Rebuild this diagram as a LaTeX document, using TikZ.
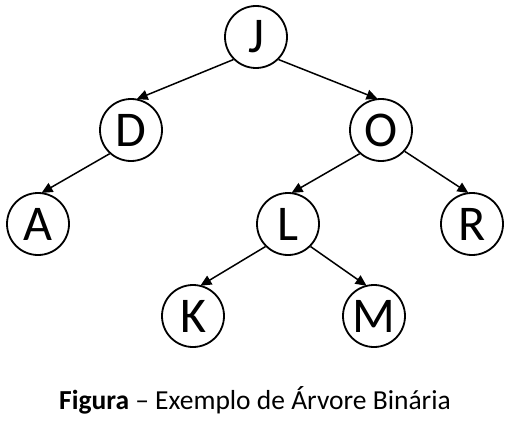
\documentclass[tikz,border=0pt]{standalone}
\usepackage{fontspec}
\setmainfont{Carlito}
\usetikzlibrary{arrows.meta}
\tikzset{
    treenode/.style={
        circle,
        draw=black,
        fill=white,
        line width=1.8pt,
        minimum size=62pt,
        inner sep=0pt,
        font=\fontsize{50}{50}\selectfont
    },
    treearrow/.style={
        -{Triangle[length=11pt,width=10pt]},
        draw=black,
        line width=1.5pt,
        shorten >=-1pt
    }
}
\begin{document}
\begin{tikzpicture}[x=1pt,y=-1pt]
    \useasboundingbox (0,0) rectangle (508,425);
    \node[treenode] (J) at (256,37) {J};
    \node[treenode] (D) at (131,130) {D};
    \node[treenode] (O) at (381,130) {O};
    \node[treenode] (A) at (38,224) {A};
    \node[treenode] (L) at (288,224) {L};
    \node[treenode] (R) at (472,224) {R};
    \node[treenode] (K) at (193,316) {K};
    \node[treenode] (M) at (374,316) {M};

    \draw[treearrow] (J.225) -- (D.78);
    \draw[treearrow] (J.-45) -- (O.98);
    \draw[treearrow] (D.228) -- (A.82);
    \draw[treearrow] (O.228) -- (L.82);
    \draw[treearrow] (O.-42) -- (R.98);
    \draw[treearrow] (L.225) -- (K.75);
    \draw[treearrow] (L.-45) -- (M.105);

    \node[font=\fontsize{27.5}{27.5}\selectfont] (caption) at (255,400)
        {\textbf{Figura} -- Exemplo de Árvore Binária};
\end{tikzpicture}
\end{document}
